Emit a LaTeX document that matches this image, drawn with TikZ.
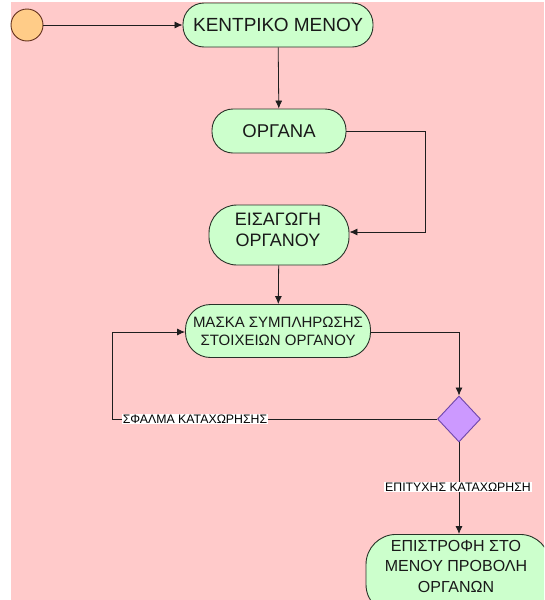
\documentclass[tikz,border=0pt]{standalone}
\usepackage{fontspec}
\setmainfont{Liberation Sans}
\usetikzlibrary{arrows.meta,shapes.geometric}

\definecolor{bgpink}{RGB}{255,202,202}
\definecolor{actfill}{RGB}{204,255,204}
\definecolor{actline}{RGB}{40,50,40}
\definecolor{startfill}{RGB}{255,204,136}
\definecolor{startline}{RGB}{100,50,30}
\definecolor{decfill}{RGB}{204,153,255}
\definecolor{decline}{RGB}{110,70,170}
\definecolor{wireclr}{RGB}{30,30,30}

\tikzset{
  activity/.style={draw=actline, fill=actfill, line width=0.9pt,
    rounded corners=21pt, align=center, inner sep=0pt, text=black!90},
  caption/.style={align=center, inner sep=0pt, text=black!90},
  startnode/.style={circle, draw=startline, fill=startfill, line width=0.9pt,
    minimum size=32pt, inner sep=0pt},
  decision/.style={diamond, draw=decline, fill=decfill, line width=0.9pt,
    minimum width=43pt, minimum height=46pt, inner sep=0pt},
  wire/.style={draw=wireclr, line width=0.8pt},
  flow/.style={wire, -{Latex[length=8pt,width=7pt]}},
  guard/.style={fill=white, inner sep=1pt, font=\fontsize{12.3}{14}\selectfont, text=black}
}

\begin{document}
\begin{tikzpicture}[x=1pt,y=-1pt]
  \clip (0,0) rectangle (544,600);
  \useasboundingbox (0,0) rectangle (544,600);
  \fill[bgpink] (11,2) rectangle (544,600);

  % activity states
  \node[startnode] (start) at (27,25) {};
  \node[activity, minimum width=190pt, minimum height=44pt,
        font=\fontsize{19}{22}\selectfont] (menu) at (278,25) {ΚΕΝΤΡΙΚΟ ΜΕΝΟΥ};
  \node[activity, minimum width=134pt, minimum height=44pt,
        font=\fontsize{18.5}{20}\selectfont] (organa) at (279,131) {ΟΡΓΑΝΑ};
  \node[activity, minimum width=140pt, minimum height=60pt,
        rounded corners=28pt] (eisag) at (279,235) {};
  \node[caption, font=\fontsize{18}{21}\selectfont] (eisagtxt) at (278,230) {ΕΙΣΑΓΩΓΗ\\ΟΡΓΑΝΟΥ};
  \node[activity, minimum width=185pt, minimum height=53pt, rounded corners=25pt,
        font=\fontsize{15}{18}\selectfont] (maska) at (278,331) {ΜΑΣΚΑ ΣΥΜΠΛΗΡΩΣΗΣ\\ΣΤΟΙΧΕΙΩΝ ΟΡΓΑΝΟΥ};
  \node[decision] (dec) at (459,419) {};
  \node[activity, minimum width=184pt, minimum height=80pt, rounded corners=30pt,
        anchor=north] (final) at (458,534) {};
  \node[caption, font=\fontsize{16}{20.5}\selectfont] (finaltxt) at (456,566)
        {ΕΠΙΣΤΡΟΦΗ ΣΤΟ\\ΜΕΝΟΥ ΠΡΟΒΟΛΗ\\ΟΡΓΑΝΩΝ};

  % bend points of the connectors
  \coordinate (orgR) at (425,131);
  \coordinate (orgD) at (425,232);
  \coordinate (maskR) at (459,332);
  \coordinate (errL) at (112,419);
  \coordinate (errU) at (112,332);

  % transitions
  \draw[flow] (start) -- (menu);
  \draw[flow] (menu) -- (organa);
  \draw[flow] (organa.east) -- (orgR) -- (orgD) -- (eisag.east |- orgD);
  \draw[flow] (eisag) -- (maska);
  \draw[flow] (maska.east |- maskR) -- (maskR) -- (dec.north);
  \draw[flow] (dec.west) -- (errL) -- (errU) -- (maska.west |- errU);
  \draw[flow] (dec.south) -- (final.north -| dec.south);

  % guard labels
  \node[guard] (errlbl) at (195,419) {ΣΦΑΛΜΑ ΚΑΤΑΧΩΡΗΣΗΣ};
  \node[guard] (oklbl) at (458,487) {ΕΠΙΤΥΧΗΣ ΚΑΤΑΧΩΡΗΣΗ};
\end{tikzpicture}
\end{document}
